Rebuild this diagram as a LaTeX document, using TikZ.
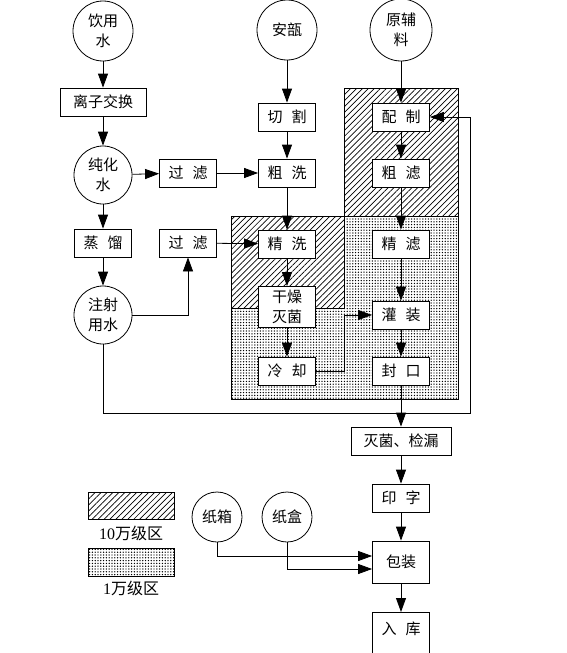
\documentclass[tikz,border=0pt]{standalone}
\usepackage{fontspec}
\setmainfont{Liberation Serif}
\newfontfamily\cjk{Noto Sans CJK SC}
\usetikzlibrary{arrows.meta,patterns.meta}
\newcommand\gapp{\hspace{0.6em}}
\begin{document}
\begin{tikzpicture}[x=1pt,y=-1pt,
  every path/.style={line width=0.8pt},
  txt/.style={font=\cjk\fontsize{15}{20}\selectfont},
  box/.style={txt, draw, fill=white, minimum width=57pt, minimum height=28pt, inner sep=0pt, align=center},
  circ/.style={txt, draw, circle, fill=white, minimum size=60pt, inner sep=0pt, align=center},
  arr/.style={-{Triangle[length=14pt,width=10pt]}},
  hatch/.style={pattern={Lines[angle=45,distance=4.2pt,line width=0.7pt]}},
  dotz/.style={pattern={Dots[distance=2.8pt,radius=0.72pt]}}
]
\useasboundingbox (0,0) rectangle (567,653);
% clean zones
\fill[white] (231,216) rectangle (458,399);
\path[dotz] (231,216) rectangle (458,399);
\fill[white] (231,216) rectangle (344,308);
\path[hatch] (231,216) rectangle (344,308);
\fill[white] (344,88) rectangle (458,216);
\path[hatch] (344,88) rectangle (458,216);
\draw (231,216) rectangle (458,399);
\draw (344,88) rectangle (458,216);
\draw (231,216) rectangle (344,308);

% water column
\node[circ] (c1) at (103,31) {饮用\\水};
\node[box, minimum width=86pt] (ion) at (103,102) {离子交换};
\node[circ, minimum size=58pt] (c2) at (103,175) {纯化\\水};
\node[box] (steam) at (103,243) {蒸\gapp 馏};
\node[circ, minimum size=58pt] (c3) at (103,315) {注射\\用水};
\node[box] (f1) at (188,173) {过\gapp 滤};
\node[box] (f2) at (188,243) {过\gapp 滤};

% ampoule column
\node[circ] (c4) at (287,30) {安瓿};
\node[box] (cut) at (287,117) {切\gapp 割};
\node[box] (rw) at (287,173) {粗\gapp 洗};
\node[box] (fw) at (287,244) {精\gapp 洗};
\node[box, minimum height=41pt] (dry) at (287,307) {干燥\\灭菌};
\node[box] (cool) at (287,371) {冷\gapp 却};

% material column
\node[circ, minimum size=62pt] (c5) at (401,30) {原辅\\料};
\node[box] (mix) at (401,117) {配\gapp 制};
\node[box] (cf) at (401,173) {粗\gapp 滤};
\node[box] (ff) at (401,244) {精\gapp 滤};
\node[box] (fill) at (401,315) {灌\gapp 装};
\node[box] (seal) at (401,371) {封\gapp 口};
\node[box, minimum width=100pt] (ster) at (401,441) {灭菌、检漏};
\node[box] (print) at (401,498) {印\gapp 字};
\node[box, minimum height=42pt] (pack) at (401,562) {包装};
\node[box, minimum height=50pt, anchor=north] (store) at (401,612) {\raisebox{3pt}[0pt][0pt]{入\gapp 库}};
\node[circ, minimum size=50pt] (c6) at (217,517) {纸箱};
\node[circ, minimum size=50pt] (c7) at (287,517) {纸盒};

% legend
\path[hatch] (88,492) rectangle (174,519);
\draw (88,492) rectangle (174,519);
\node[txt, font=\fontsize{16}{20}\selectfont] (l1) at (131,533) {10{\cjk 万级区}};
\path[dotz] (88,548) rectangle (174,576);
\draw (88,548) rectangle (174,576);
\node[txt, font=\fontsize{16}{20}\selectfont] (l2) at (131,588) {1{\cjk 万级区}};

% connectors
\draw[arr] (c1) -- (ion);
\draw[arr] (ion) -- (c2);
\draw[arr] (c2) -- (steam);
\draw[arr] (steam) -- (c3);
\draw[arr] (c2) -- (f1);
\draw[arr] (f1) -- (rw);
\draw[arr] (c3.east) -| (f2.south);
\draw[arr] (f2) -- (fw);
\draw[arr] (c4) -- (cut);
\draw[arr] (cut) -- (rw);
\draw[arr] (rw) -- (fw);
\draw[arr] (fw) -- (dry);
\draw[arr] (dry) -- (cool);
\coordinate (k1) at (344,371);
\draw[arr] (cool.east) -- (k1) |- (fill.west);
\draw[arr] (c5) -- (mix);
\draw[arr] (mix) -- (cf);
\draw[arr] (cf) -- (ff);
\draw[arr] (ff) -- (fill);
\draw[arr] (fill) -- (seal);
\draw[arr] (seal) -- (ster);
\coordinate (k2) at (103,413);
\coordinate (k3) at (470,413);
\draw[arr] (c3.south) -- (k2) -- (k3) |- (mix.east);
\draw[arr] (ster) -- (print);
\draw[arr] (print) -- (pack);
\draw[arr] (pack) -- (store);
\coordinate (p1) at ([yshift=-7pt]pack.west);
\coordinate (p2) at ([yshift=6pt]pack.west);
\draw[arr] (c7.south) |- (p1);
\draw[arr] (c6.south) |- (p2);
\end{tikzpicture}
\end{document}
